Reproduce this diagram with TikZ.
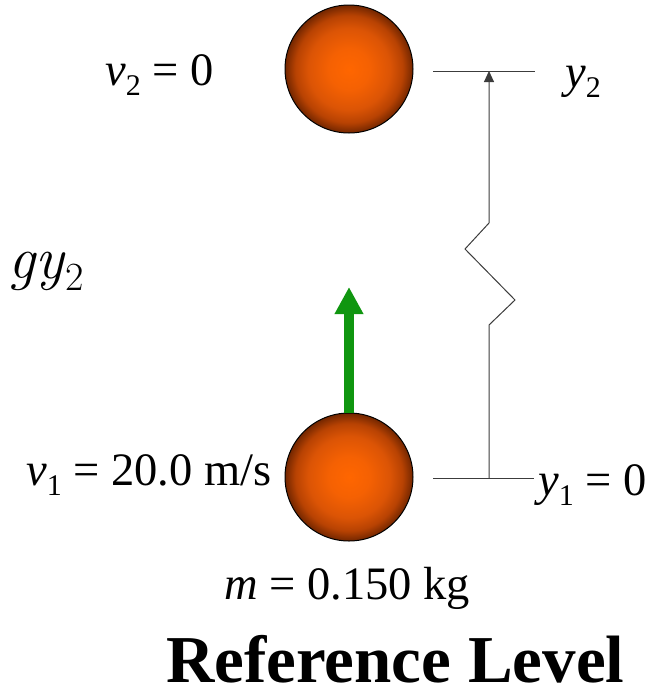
\documentclass[tikz,border=0pt]{standalone}
\usepackage{fontspec}
\setmainfont{Liberation Serif}
\newfontfamily\lmfont{Latin Modern Roman}
\usetikzlibrary{arrows.meta}
\definecolor{arrgreen}{RGB}{16,150,16}
\definecolor{linegray}{RGB}{60,60,60}
\pgfdeclareradialshading{ballshade}{\pgfpoint{0bp}{0bp}}{%
  rgb(0bp)=(1,0.40,0);
  rgb(8bp)=(0.96,0.38,0.01);
  rgb(16bp)=(0.86,0.33,0.02);
  rgb(21bp)=(0.72,0.26,0.01);
  rgb(25bp)=(0.45,0.15,0);
  rgb(50bp)=(0.45,0.15,0)}
\newcommand{\mysub}[1]{\raisebox{-0.22em}{\fontsize{30}{32}\selectfont #1}}
\tikzset{
  ball/.style={circle, minimum size=128pt, inner sep=0pt, draw=black, line width=1pt,
    shading=ballshade},
  lbl/.style={anchor=base west, inner sep=0pt, font=\fontsize{46.5}{52}\selectfont},
  guide/.style={draw=linegray, line width=1pt},
}
\begin{document}
\begin{tikzpicture}[x=1pt,y=-1pt]
\useasboundingbox (0,0) rectangle (669,691);
% balls
\node[ball] (top) at (349,69) {};
\node[ball] (bot) at (349,477) {};
% green arrow
\coordinate (atip) at (349,287);
\draw[arrgreen, line width=9.5pt, -{Triangle[width=27pt,length=27pt]}] (bot.north) -- (atip);
% level lines
\coordinate (t1) at (433,71);
\coordinate (t2) at (535,71);
\coordinate (b1) at (433,478);
\coordinate (b2) at (534,478);
\coordinate (vt) at (489,71);
\coordinate (vb) at (489,478);
\draw[guide] (t1) -- (t2);
\draw[guide] (b1) -- (b2);
\draw[guide, -{Triangle[width=10pt,length=11pt]}]
  (vb) -- (489,325) -- (515,300) -- (465,249) -- (489,223) -- (vt);
% labels
\node[lbl] (v2) at (105,85) {\textit{v}\mysub{2} = 0};
\node[lbl] (y2) at (565,87) {\textit{y}\mysub{2}};
\node[lbl] (v1) at (26,485) {\textit{v}\mysub{1} = 20.0 m/s};
\node[lbl] (y1) at (538,495) {\textit{y}\mysub{1} = 0};
\node[lbl] (m) at (224,599) {\textit{m} = 0.150 kg};
\node[anchor=base west, inner sep=0pt, text depth=0pt, font=\fontsize{67}{72}\selectfont\bfseries] (ref) at (166,682) {Reference Level};
\node[anchor=base west, inner sep=0pt, font=\fontsize{60}{65}\selectfont\lmfont] (gy) at (8,278) {\textit{gy}\raisebox{-0.2em}{\fontsize{40}{42}\selectfont 2}};
\end{tikzpicture}
\end{document}
